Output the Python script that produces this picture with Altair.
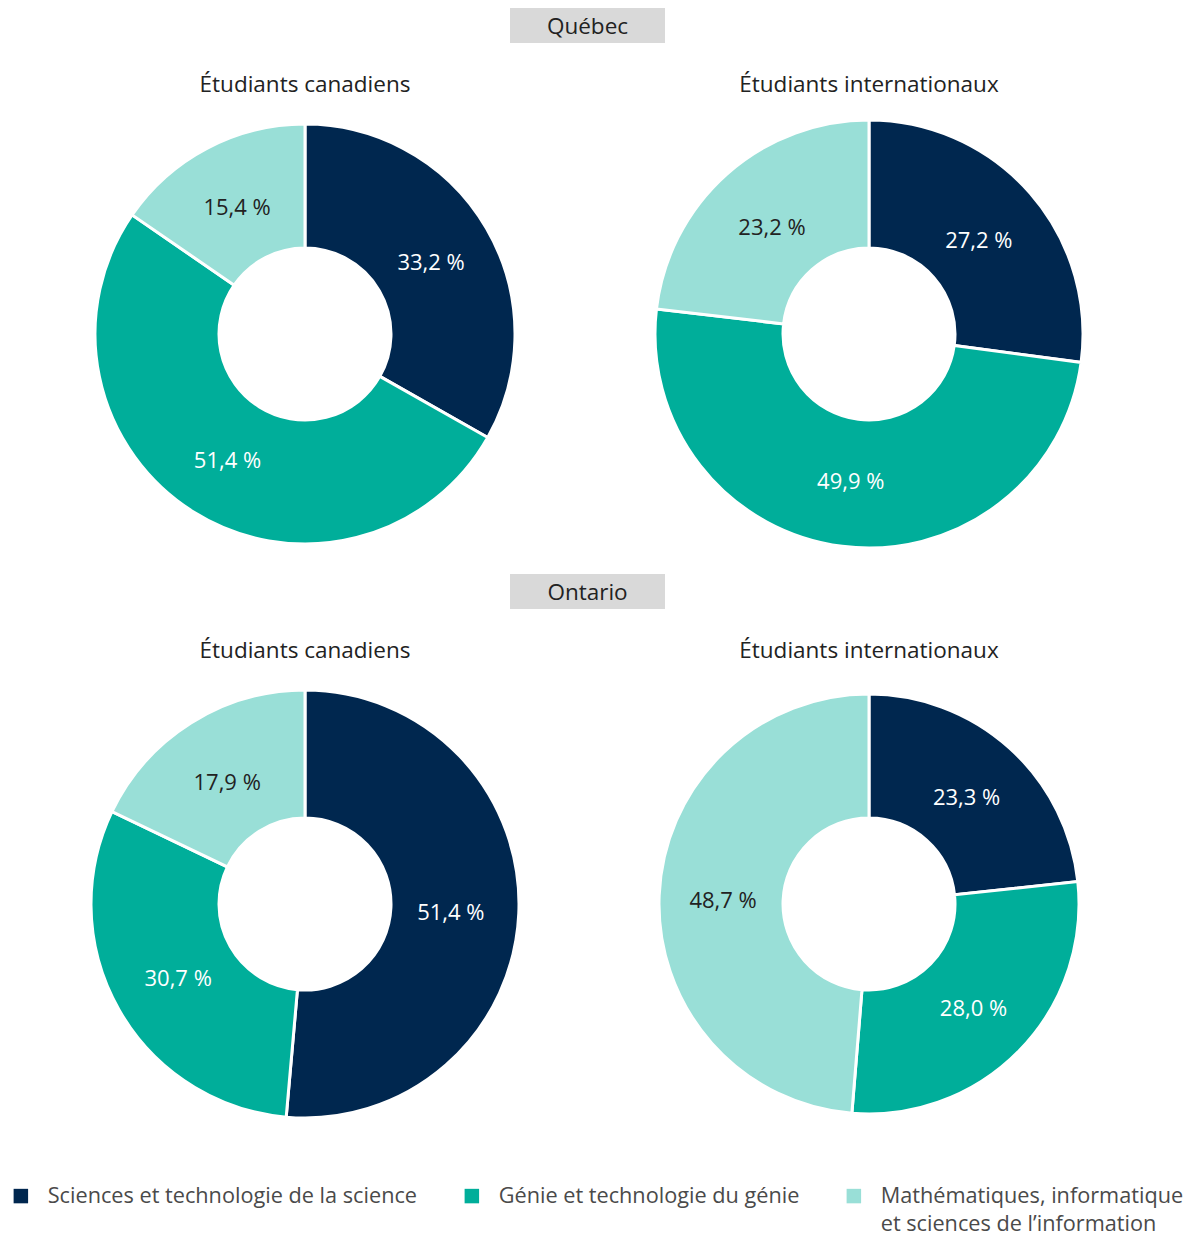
import altair as alt
import pandas as pd

categories = [
    "Sciences et technologie de la science",
    "Génie et technologie du génie",
    "Mathématiques, informatique et sciences de l’information",
]
colors = ["#00274F", "#00AE9A", "#99DFD7"]
regions = ["Québec", "Ontario"]
groups = ["Étudiants canadiens", "Étudiants internationaux"]
values = {
    ("Québec", "Étudiants canadiens"): [33.2, 51.4, 15.4],
    ("Québec", "Étudiants internationaux"): [27.2, 49.9, 23.2],
    ("Ontario", "Étudiants canadiens"): [51.4, 30.7, 17.9],
    ("Ontario", "Étudiants internationaux"): [23.3, 28.0, 48.7],
}

rows = []
for (reg, grp), vals in values.items():
    for i, (cat, v) in enumerate(zip(categories, vals)):
        rows.append({
            "region": reg, "group": grp, "category": cat, "ordre": i,
            "value": v, "label": f"{v:.1f}".replace(".", ",") + " %",
        })
df = pd.DataFrame(rows)

FONT = "Open Sans"
PANEL_H = 440
WIDTHS = [610, 518]
OUTER = {
    ("Québec", "Étudiants canadiens"): 210,
    ("Québec", "Étudiants internationaux"): 214,
    ("Ontario", "Étudiants canadiens"): 214,
    ("Ontario", "Étudiants internationaux"): 210,
}
TITLE_OFFSET = {"Québec": 18, "Ontario": 22}

legend = alt.Legend(
    title=None, orient="none", direction="horizontal", legendX=10, legendY=1185,
    symbolType="square", symbolSize=210, symbolStrokeWidth=0,
    labelFont=FONT, labelFontSize=21.7, labelColor="#4A4A4A", labelLimit=600,
    labelOffset=16, columnPadding=43, labelBaseline="middle", padding=0,
    labelExpr="indexof(datum.label, 'Math') == 0 ? ['Mathématiques, informatique', 'et sciences de l’information'] : [datum.label, '']",
)


def donut(reg, grp, w):
    outer = OUTER[(reg, grp)]
    base = alt.Chart(df).transform_filter(
        (alt.datum.region == reg) & (alt.datum.group == grp)
    ).encode(
        theta=alt.Theta("value:Q", stack=True),
        order=alt.Order("ordre:Q"),
    )
    arc = base.mark_arc(innerRadius=86, outerRadius=outer, stroke="white", strokeWidth=3).encode(
        color=alt.Color("category:N", scale=alt.Scale(domain=categories, range=colors),
                        sort=categories, legend=legend)
    )
    txt = base.mark_text(radius=146, font=FONT, fontSize=22, dy=3).encode(
        text="label:N",
        color=alt.condition(alt.datum.ordre == 2, alt.value("#222222"), alt.value("white")),
    )
    return alt.layer(arc, txt).properties(
        width=w, height=PANEL_H,
        title=alt.TitleParams(grp, font=FONT, fontSize=22.5, fontWeight="normal",
                              color="#222222", offset=TITLE_OFFSET[reg], anchor="middle"),
    )


def header(reg):
    hdf = pd.DataFrame({"region": [reg]})
    rect = alt.Chart(hdf).mark_rect(color="#D9D9D9").encode(
        x=alt.value(510), x2=alt.value(665), y=alt.value(8), y2=alt.value(43)
    )
    txt = alt.Chart(hdf).mark_text(font=FONT, fontSize=22.5, color="#222222").encode(
        x=alt.value(587.5), y=alt.value(26.5), text="region:N"
    )
    return alt.layer(rect, txt).properties(width=sum(WIDTHS), height=61)


parts = []
for reg in regions:
    parts.append(header(reg))
    parts.append(
        alt.hconcat(*[donut(reg, g, w) for g, w in zip(groups, WIDTHS)], spacing=0)
        .resolve_scale(theta="independent")
    )

chart = alt.vconcat(*parts, spacing=12).resolve_scale(theta="independent").properties(
    padding={"left": 0, "top": 0, "right": 0, "bottom": 0}
).configure(
    view=alt.ViewConfig(stroke=None),
    style={"guide-label": {"lineHeight": 28}},
)

chart.save("out.html", embed_options={"renderer": "svg", "actions": False})
